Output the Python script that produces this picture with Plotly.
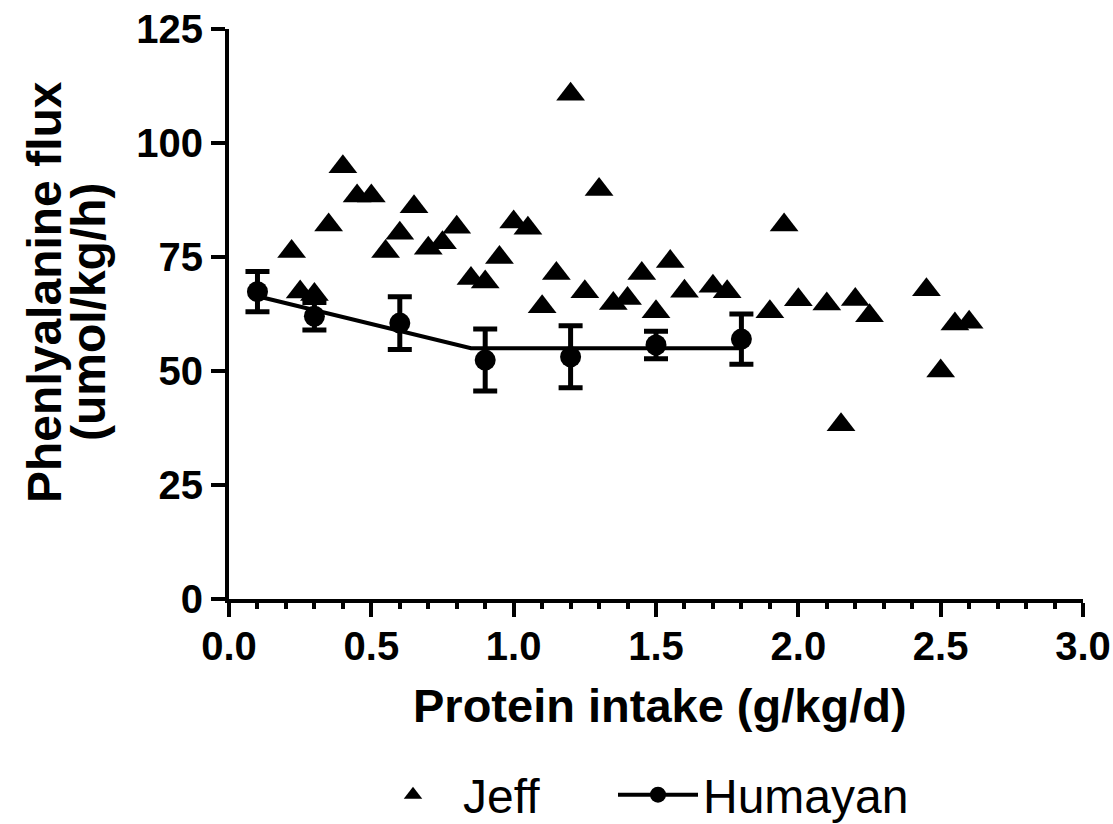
import plotly.graph_objects as go

# Jeff data (triangles)
jeff_x = [0.22, 0.25, 0.30, 0.35, 0.40, 0.45, 0.50, 0.55, 0.60, 0.65, 0.70, 0.75, 0.80,
          0.85, 0.90, 0.95, 1.00, 1.05, 1.10, 1.15, 1.20, 1.25, 1.30, 1.35, 1.40, 1.45,
          1.50, 1.55, 1.60, 1.70, 1.75, 1.90, 1.95, 2.00, 2.10, 2.15, 2.20, 2.25, 2.45,
          2.50, 2.55, 2.60]
jeff_y = [76.2, 67.3, 66.8, 82.0, 94.8, 88.4, 88.4, 76.2, 80.2, 86.0, 76.9, 78.1, 81.5,
          70.3, 69.5, 74.9, 82.7, 81.3, 64.1, 71.4, 110.7, 67.4, 89.8, 64.8, 65.9, 71.4,
          63.0, 74.0, 67.5, 68.6, 67.4, 63.0, 82.0, 65.6, 64.7, 38.2, 65.7, 62.1, 67.8,
          50.0, 60.3, 60.7]

# Humayan data (mean +/- error)
hum_x = [0.1, 0.3, 0.6, 0.9, 1.2, 1.5, 1.8]
hum_y = [67.4, 62.0, 60.5, 52.4, 53.1, 55.7, 57.0]
hum_err = [4.4, 3.0, 5.8, 6.8, 6.8, 3.0, 5.5]

# Humayan breakpoint fit line
fit_x = [0.1, 0.85, 1.8]
fit_y = [66.4, 55.0, 55.0]

x_ticks = [0.0, 0.5, 1.0, 1.5, 2.0, 2.5, 3.0]
y_ticks = [0, 25, 50, 75, 100, 125]

x_title = "Protein intake (g/kg/d)"
y_title_1 = "Phenlyalanine flux"
y_title_2 = "(umol/kg/h)"

FONT = "Liberation Sans, Arial, sans-serif"
W, H = 1113, 824

fig = go.Figure()

fig.add_trace(go.Scatter(
    x=jeff_x, y=jeff_y, mode="markers", name="Jeff", legend="legend",
    marker=dict(symbol="triangle-up", size=25, color="black"),
))

fig.add_trace(go.Scatter(
    x=fit_x, y=fit_y, mode="lines", showlegend=False,
    line=dict(color="black", width=4),
))

fig.add_trace(go.Scatter(
    x=hum_x, y=hum_y, mode="markers", showlegend=False,
    marker=dict(symbol="circle", size=21, color="black"),
    error_y=dict(type="data", array=hum_err, visible=True, color="black",
                 thickness=5, width=12),
))

# legend entry for Humayan (line + circle)
fig.add_trace(go.Scatter(
    x=[None], y=[None], mode="lines+markers", name="Humayan", legend="legend2",
    line=dict(color="black", width=4),
    marker=dict(symbol="circle", size=16, color="black"),
))

leg_y = (H - 795) / H
common_leg = dict(orientation="h", xref="container", yref="container",
                  xanchor="left", yanchor="middle", y=leg_y,
                  font=dict(size=48, family=FONT, color="black"),
                  bgcolor="rgba(0,0,0,0)")

axis_common = dict(
    automargin=False, showline=True, linecolor="black", linewidth=4,
    ticks="outside", ticklen=14, tickwidth=4, tickcolor="black",
    showgrid=False, zeroline=False, ticklabeloverflow="allow",
    tickfont=dict(size=40, family=FONT, weight="bold"),
)

fig.update_layout(
    width=W, height=H,
    margin=dict(l=229, r=30, t=29, b=225, autoexpand=False),
    paper_bgcolor="white", plot_bgcolor="white",
    font=dict(family=FONT, color="black"),
    showlegend=True,
    legend=dict(x=363 / W, itemwidth=90, **common_leg),
    legend2=dict(x=613 / W, itemwidth=80, **common_leg),
    xaxis=dict(
        range=[0, 3.0], tickvals=x_ticks, tickformat=".1f",
        minor=dict(dtick=0.1, ticks="outside", ticklen=6, tickwidth=4, tickcolor="black"),
        ticklabelstandoff=-5, **axis_common,
    ),
    yaxis=dict(
        range=[0, 125], tickvals=y_ticks,
        ticklabelstandoff=0, **axis_common,
    ),
    annotations=[
        dict(text=x_title, xref="paper", yref="paper",
             x=0.5047, y=-0.1877, xanchor="center", yanchor="middle", showarrow=False,
             font=dict(size=47, family=FONT, weight="bold", color="black")),
        dict(text=y_title_1, textangle=-90, xref="paper", yref="paper",
             x=-0.2155, y=0.5386, xanchor="center", yanchor="middle", showarrow=False,
             font=dict(size=48, family=FONT, weight="bold", color="black")),
        dict(text=y_title_2, textangle=-90, xref="paper", yref="paper",
             x=-0.1650, y=0.5035, xanchor="center", yanchor="middle", showarrow=False,
             font=dict(size=48, family=FONT, weight="bold", color="black")),
    ],
)

fig.write_html("out.html", config={"displayModeBar": False},
               post_script="document.body.style.margin='0px';")
